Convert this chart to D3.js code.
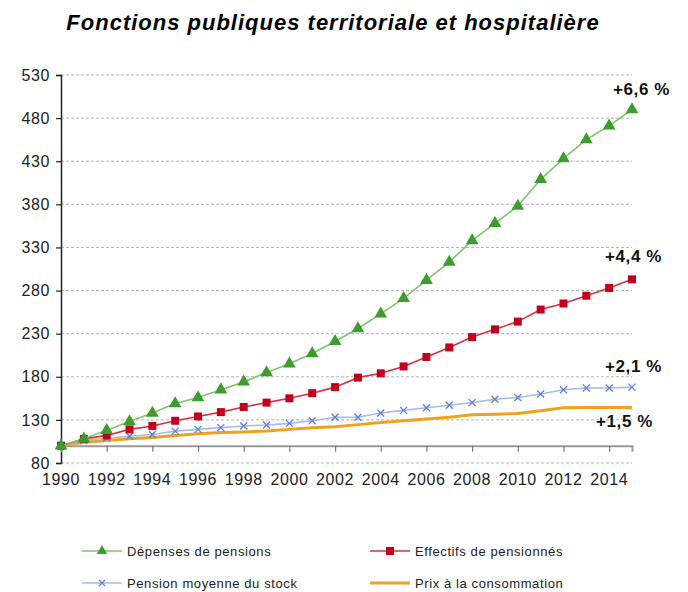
<!DOCTYPE html>
<html>
<head>
<meta charset="utf-8">
<script src="https://cdn.jsdelivr.net/npm/d3@7"></script>
<style>
  body { margin: 0; background: #fff; }
  svg { display: block; font-family: Arial, "Liberation Sans", sans-serif; }
  .tick text { fill: #222; }
</style>
</head>
<body>
<div id="chart"></div>
<script>
// data (base 100 in 1990)
var years = d3.range(1990, 2016);
var depenses = [100, 108, 118, 128, 138, 149, 156, 165, 174, 185, 195, 207, 221, 236, 253, 271, 292, 313, 338, 358, 378, 409, 433, 455, 471, 490];
var effectifs = [100, 108, 112, 119, 123, 129, 134, 139, 145, 150, 155, 161, 168, 179, 184, 192, 203, 214, 226, 235, 244, 258, 265, 274, 283, 293];
var pensionMoy = [100, 106, 109, 111, 113, 117, 119, 121, 123, 124, 126, 129, 133, 133, 138, 141, 144, 147, 150, 154, 156, 160, 165, 167, 167, 168];
var prix = [100, 104, 106, 108, 109.5, 112, 114, 115.5, 116, 117, 119, 121, 122, 124.5, 127, 129, 131, 133, 136, 136.5, 137.5, 140.5, 144, 144.5, 144.5, 144.5];
var yTicks = [80, 130, 180, 230, 280, 330, 380, 430, 480, 530];
var xTicks = d3.range(1990, 2016, 2);
var endLabels = ["+6,6 %", "+4,4 %", "+2,1 %", "+1,5 %"];
var seriesNames = ["Dépenses de pensions", "Effectifs de pensionnés", "Pension moyenne du stock", "Prix à la consommation"];

var W = 688, H = 592;
var svg = d3.select("#chart").append("svg")
    .attr("width", W)
    .attr("height", H);

var x = d3.scaleLinear().domain([1990, 2015]).range([61, 632]);
var y = d3.scaleLinear().domain([80, 530]).range([463, 75]);

svg.append("text")
    .attr("x", 333).attr("y", 30)
    .attr("text-anchor", "middle")
    .style("font-size", "22px")
    .style("font-weight", "bold")
    .style("font-style", "italic")
    .style("letter-spacing", "1px")
    .text("Fonctions publiques territoriale et hospitalière");

// gridlines
svg.append("g").selectAll("line")
    .data(yTicks)
  .enter().append("line")
    .attr("x1", x(1990)).attr("x2", x(2015))
    .attr("y1", function(d) { return y(d); })
    .attr("y2", function(d) { return y(d); })
    .attr("stroke", "#b4b4b4")
    .attr("stroke-dasharray", "3,2");

// y axis
var yAxis = svg.append("g")
    .attr("transform", "translate(" + x(1990) + ",0)")
    .call(d3.axisLeft(y).tickValues(yTicks).tickSize(5).tickPadding(6).tickFormat(d3.format("d")));
yAxis.attr("font-family", null);
yAxis.select(".domain").attr("stroke", "#222").attr("stroke-width", 1.5);
yAxis.selectAll(".tick line").attr("stroke", "#222").attr("stroke-width", 1.2);
yAxis.selectAll("text").style("font-size", "16px").style("letter-spacing", "0.6px");

// x axis sits on the 100 line
var xAxis = svg.append("g")
    .attr("transform", "translate(0," + y(100) + ")")
    .call(d3.axisBottom(x).tickValues(xTicks.slice(1)).tickSize(6).tickFormat(""));
xAxis.select(".domain").attr("stroke", "#9a9a9a").attr("stroke-width", 2);
xAxis.selectAll(".tick line").attr("stroke", "#777").attr("stroke-width", 1.2);

// year labels below the 80 line
svg.append("g").selectAll("text")
    .data(xTicks)
  .enter().append("text")
    .attr("x", function(d) { return x(d); })
    .attr("y", y(80) + 22)
    .attr("text-anchor", "middle")
    .style("font-size", "16px")
    .style("letter-spacing", "0.6px")
    .attr("fill", "#222")
    .text(function(d) { return d; });

var line = d3.line()
    .x(function(d, i) { return x(years[i]); })
    .y(function(d) { return y(d); });

// prix (no markers)
svg.append("path").datum(prix)
    .attr("d", line).attr("fill", "none")
    .attr("stroke", "#f0a21c").attr("stroke-width", 3);

// pension moyenne
svg.append("path").datum(pensionMoy)
    .attr("d", line).attr("fill", "none")
    .attr("stroke", "#a9bbe6").attr("stroke-width", 1.6);
svg.append("g").selectAll("path")
    .data(pensionMoy)
  .enter().append("path")
    .attr("transform", function(d, i) { return "translate(" + x(years[i]) + "," + y(d) + ")"; })
    .attr("d", "M-3.5,-3.5L3.5,3.5M-3.5,3.5L3.5,-3.5")
    .attr("stroke", "#5d7fd4").attr("stroke-width", 1.3);

// effectifs
svg.append("path").datum(effectifs)
    .attr("d", line).attr("fill", "none")
    .attr("stroke", "#d23246").attr("stroke-width", 1.6);
svg.append("g").selectAll("rect")
    .data(effectifs)
  .enter().append("rect")
    .attr("x", function(d, i) { return x(years[i]) - 4; })
    .attr("y", function(d) { return y(d) - 4; })
    .attr("width", 8).attr("height", 8)
    .attr("fill", "#c0001c");

// depenses
svg.append("path").datum(depenses)
    .attr("d", line).attr("fill", "none")
    .attr("stroke", "#7cc66c").attr("stroke-width", 1.6);
var tri = d3.symbol().type(d3.symbolTriangle).size(70);
svg.append("g").selectAll("path")
    .data(depenses)
  .enter().append("path")
    .attr("transform", function(d, i) { return "translate(" + x(years[i]) + "," + y(d) + ")"; })
    .attr("d", tri)
    .attr("fill", "#3c9c2c");

// end-of-series labels
var lastVals = [depenses[25], effectifs[25], pensionMoy[25], prix[25]];
var labDx = [38, 30, 30, 21];
var labDy = [-14, -17, -15, 20];
svg.append("g").selectAll("text")
    .data(endLabels)
  .enter().append("text")
    .attr("x", function(d, i) { return x(2015) + labDx[i]; })
    .attr("y", function(d, i) { return y(lastVals[i]) + labDy[i]; })
    .attr("text-anchor", "end")
    .style("font-size", "17px")
    .style("font-weight", "bold")
    .style("letter-spacing", "0.6px")
    .attr("fill", "#111")
    .text(function(d) { return d; });

// legend
var legX = [82, 370, 82, 370];
var legY = [551, 551, 583, 583];
var leg = svg.append("g").selectAll("g")
    .data(seriesNames)
  .enter().append("g")
    .attr("transform", function(d, i) { return "translate(" + legX[i] + "," + legY[i] + ")"; });
var legColors = ["#7cc66c", "#d23246", "#a9bbe6", "#f0a21c"];
leg.append("line")
    .attr("x1", 0).attr("x2", 40)
    .attr("stroke", function(d, i) { return legColors[i]; })
    .attr("stroke-width", function(d, i) { return i == 3 ? 3 : 1.6; });
leg.filter(function(d, i) { return i == 0; }).append("path")
    .attr("transform", "translate(20,0)")
    .attr("d", d3.symbol().type(d3.symbolTriangle).size(45))
    .attr("fill", "#3c9c2c");
leg.filter(function(d, i) { return i == 1; }).append("rect")
    .attr("x", 16).attr("y", -4).attr("width", 8).attr("height", 8)
    .attr("fill", "#c0001c");
leg.filter(function(d, i) { return i == 2; }).append("path")
    .attr("transform", "translate(20,0)")
    .attr("d", "M-3,-3L3,3M-3,3L3,-3")
    .attr("stroke", "#5d7fd4").attr("stroke-width", 1.2);
leg.append("text")
    .attr("x", 45).attr("y", 5)
    .style("font-size", "13px")
    .style("letter-spacing", "0.6px")
    .attr("fill", "#222")
    .text(function(d) { return d; });
</script>
</body>
</html>
